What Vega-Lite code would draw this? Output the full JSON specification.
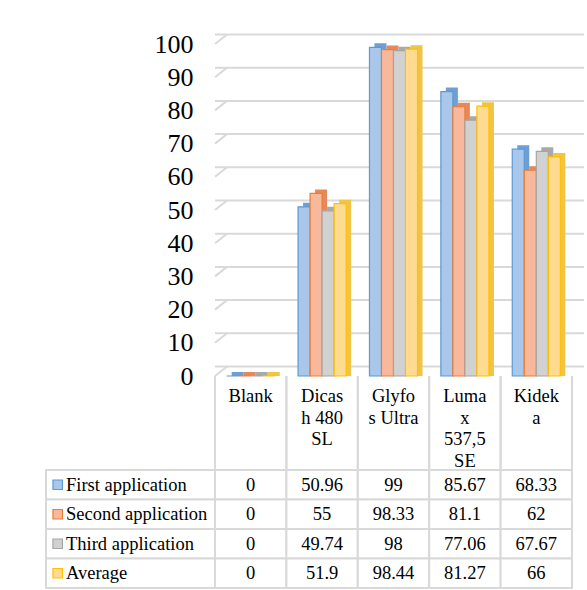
{
  "$schema": "https://vega.github.io/schema/vega-lite/v6.json",
  "padding": {"left": 45, "top": 31, "right": 0, "bottom": 0},
  "background": "white",
  "config": {"view": {"stroke": null}, "font": "Liberation Serif", "concat": {"spacing": 0},
             "axisY": {"labelOverlap": false, "labelSeparation": -40}},
  "datasets": {
    "scores": [
      {"category": "Blank", "series": "First application", "value": 0},
      {"category": "Blank", "series": "Second application", "value": 0},
      {"category": "Blank", "series": "Third application", "value": 0},
      {"category": "Blank", "series": "Average", "value": 0},
      {"category": "Dicash 480 SL", "series": "First application", "value": 50.96},
      {"category": "Dicash 480 SL", "series": "Second application", "value": 55},
      {"category": "Dicash 480 SL", "series": "Third application", "value": 49.74},
      {"category": "Dicash 480 SL", "series": "Average", "value": 51.9},
      {"category": "Glyfos Ultra", "series": "First application", "value": 99},
      {"category": "Glyfos Ultra", "series": "Second application", "value": 98.33},
      {"category": "Glyfos Ultra", "series": "Third application", "value": 98},
      {"category": "Glyfos Ultra", "series": "Average", "value": 98.44},
      {"category": "Lumax 537,5 SE", "series": "First application", "value": 85.67},
      {"category": "Lumax 537,5 SE", "series": "Second application", "value": 81.1},
      {"category": "Lumax 537,5 SE", "series": "Third application", "value": 77.06},
      {"category": "Lumax 537,5 SE", "series": "Average", "value": 81.27},
      {"category": "Kideka", "series": "First application", "value": 68.33},
      {"category": "Kideka", "series": "Second application", "value": 62},
      {"category": "Kideka", "series": "Third application", "value": 67.67},
      {"category": "Kideka", "series": "Average", "value": 66}
    ],
    "categories": [
      {"category": "Blank", "wrapped": "Blank"},
      {"category": "Dicash 480 SL", "wrapped": "Dicas|h 480|SL"},
      {"category": "Glyfos Ultra", "wrapped": "Glyfo|s Ultra"},
      {"category": "Lumax 537,5 SE", "wrapped": "Luma|x|537,5|SE"},
      {"category": "Kideka", "wrapped": "Kidek|a"}
    ],
    "series": [
      {"series": "First application"},
      {"series": "Second application"},
      {"series": "Third application"},
      {"series": "Average"}
    ],
    "grid": [
      {"tick": 0}, {"tick": 10}, {"tick": 20}, {"tick": 30}, {"tick": 40}, {"tick": 50},
      {"tick": 60}, {"tick": 70}, {"tick": 80}, {"tick": 90}, {"tick": 100}
    ]
  },
  "columns": 2,
  "bounds": "flush",
  "spacing": 0,
  "concat": [
    {
      "width": 169, "height": 332,
      "data": {"values": [{}]},
      "mark": {"type": "text", "text": ""},
      "encoding": {}
    },
    {
      "width": 357, "height": 332,
      "encoding": {
        "x": {"scale": {"domain": ["Blank", "Dicash 480 SL", "Glyfos Ultra", "Lumax 537,5 SE", "Kideka"], "paddingInner": 0, "paddingOuter": 0}, "axis": null},
        "y": {"scale": {"domain": [0, 100], "nice": false, "zero": true},
              "axis": {"title": null, "grid": false, "domain": false, "ticks": false, "labelPadding": 22,
                       "labelFontSize": 26, "labelFont": "Liberation Serif", "labelColor": "#000",
                       "labelOverlap": false, "labelBound": false, "labelSeparation": -40,
                       "values": [0, 10, 20, 30, 40, 50, 60, 70, 80, 90, 100]}}
      },
      "layer": [
        {
          "data": {"name": "grid"},
          "mark": {"type": "rule", "color": "#d9d9d9", "strokeWidth": 2, "xOffset": 12, "x2Offset": 15, "yOffset": -9.5},
          "encoding": {
            "y": {"field": "tick", "type": "quantitative"}
          }
        },
        {
          "data": {"name": "grid"},
          "mark": {"type": "rule", "color": "#d9d9d9", "strokeWidth": 2, "x2Offset": 12, "y2Offset": -9.5},
          "encoding": {
            "x": {"datum": "Blank", "type": "nominal", "bandPosition": 0},
            "x2": {"datum": "Blank", "bandPosition": 0},
            "y": {"field": "tick", "type": "quantitative"},
            "y2": {"field": "tick"}
          }
        },
        {
          "data": {"name": "scores"},
          "mark": {"type": "bar", "yOffset": -4, "y2Offset": 0},
          "encoding": {
            "x": {"field": "category", "type": "nominal"},
            "xOffset": {"field": "series", "type": "nominal", "sort": null,
                        "scale": {"domain": ["First application", "Second application", "Third application", "Average"], "paddingInner": 0, "paddingOuter": 0.97, "range": [5, 76.4]}},
            "y": {"field": "value", "type": "quantitative"},
            "y2": {"datum": 0},
            "fill": {"field": "series", "type": "nominal", "legend": null,
                     "scale": {"domain": ["First application", "Second application", "Third application", "Average"],
                               "range": ["#6d9fd4", "#e5895a", "#a9a9a9", "#f0c445"]}}
          }
        },
        {
          "data": {"name": "scores"},
          "mark": {"type": "bar", "strokeWidth": 1.2},
          "encoding": {
            "x": {"field": "category", "type": "nominal"},
            "xOffset": {"field": "series", "type": "nominal", "sort": null,
                        "scale": {"domain": ["First application", "Second application", "Third application", "Average"], "paddingInner": 0, "paddingOuter": 0.97}},
            "y": {"field": "value", "type": "quantitative"},
            "fill": {"field": "series", "type": "nominal", "legend": null,
                     "scale": {"domain": ["First application", "Second application", "Third application", "Average"],
                               "range": ["#a9c7ea", "#f8b89c", "#d1d1d1", "#ffdb91"]}},
            "stroke": {"field": "series", "type": "nominal", "legend": null,
                       "scale": {"domain": ["First application", "Second application", "Third application", "Average"],
                                 "range": ["#5b9bd5", "#ed7d31", "#a5a5a5", "#ffc000"]}}
          }
        },
        {
          "data": {"name": "categories"},
          "mark": {"type": "text", "baseline": "top", "lineBreak": "|", "fontSize": 18.5, "lineHeight": 21.5, "dy": 11, "color": "#000", "font": "Liberation Serif"},
          "encoding": {
            "x": {"field": "category", "type": "nominal"},
            "y": {"datum": 0},
            "text": {"field": "wrapped", "type": "nominal"}
          }
        }
      ],
      "resolve": {"scale": {"fill": "independent", "xOffset": "independent"}}
    },
    {
      "width": 169, "height": 94,
      "data": {"values": [{}]},
      "mark": {"type": "text", "text": ""},
      "encoding": {}
    },
    {
      "width": 357, "height": 94,
      "data": {"name": "categories"},
      "layer": [
        {
          "mark": {"type": "rule", "color": "#d9d9d9", "strokeWidth": 2},
          "encoding": {"x": {"field": "category", "type": "nominal", "bandPosition": 0,
                             "scale": {"domain": ["Blank", "Dicash 480 SL", "Glyfos Ultra", "Lumax 537,5 SE", "Kideka"], "paddingInner": 0, "paddingOuter": 0}, "axis": null}}
        },
        {
          "mark": {"type": "rule", "color": "#d9d9d9", "strokeWidth": 2},
          "encoding": {"x": {"field": "category", "type": "nominal", "bandPosition": 1}}
        }
      ]
    },
    {
      "width": 169, "height": 118,
      "data": {"name": "series"},
      "layer": [
        {
          "mark": {"type": "rect", "fill": "white", "stroke": "#d9d9d9", "strokeWidth": 2},
          "encoding": {"y": {"field": "series", "type": "nominal",
                             "scale": {"domain": ["First application", "Second application", "Third application", "Average"], "paddingInner": 0, "paddingOuter": 0}, "axis": null}}
        },
        {
          "mark": {"type": "point", "shape": "square", "size": 90, "filled": true, "opacity": 1, "strokeWidth": 1.2, "xOffset": -72.8},
          "encoding": {
            "y": {"field": "series", "type": "nominal"},
            "fill": {"field": "series", "type": "nominal", "legend": null,
                     "scale": {"domain": ["First application", "Second application", "Third application", "Average"],
                               "range": ["#a9c7ea", "#f8b89c", "#d1d1d1", "#ffdb91"]}},
            "stroke": {"field": "series", "type": "nominal", "legend": null,
                       "scale": {"domain": ["First application", "Second application", "Third application", "Average"],
                                 "range": ["#5b9bd5", "#ed7d31", "#a5a5a5", "#ffc000"]}}
          }
        },
        {
          "mark": {"type": "text", "align": "left", "dx": -64.5, "fontSize": 18.5, "color": "#000", "font": "Liberation Serif"},
          "encoding": {
            "y": {"field": "series", "type": "nominal"},
            "text": {"field": "series", "type": "nominal"}
          }
        }
      ]
    },
    {
      "width": 357, "height": 118,
      "data": {"name": "scores"},
      "layer": [
        {
          "mark": {"type": "rect", "fill": "white", "stroke": "#d9d9d9", "strokeWidth": 2},
          "encoding": {
            "x": {"field": "category", "type": "nominal",
                  "scale": {"domain": ["Blank", "Dicash 480 SL", "Glyfos Ultra", "Lumax 537,5 SE", "Kideka"], "paddingInner": 0, "paddingOuter": 0}, "axis": null},
            "y": {"field": "series", "type": "nominal",
                  "scale": {"domain": ["First application", "Second application", "Third application", "Average"], "paddingInner": 0, "paddingOuter": 0}, "axis": null}
          }
        },
        {
          "mark": {"type": "text", "fontSize": 18.5, "color": "#000", "font": "Liberation Serif"},
          "encoding": {
            "x": {"field": "category", "type": "nominal"},
            "y": {"field": "series", "type": "nominal"},
            "text": {"field": "value", "type": "quantitative"}
          }
        }
      ]
    }
  ]
}
